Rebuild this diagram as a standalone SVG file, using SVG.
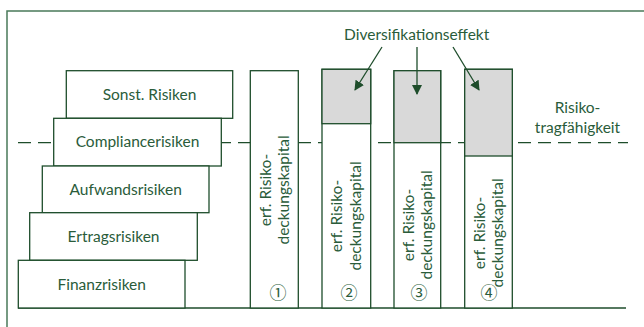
<svg xmlns="http://www.w3.org/2000/svg" width="644" height="327" viewBox="0 0 644 327">
<style>
.bx{fill:#fff;stroke:#1e4d2b;stroke-width:1.3}
.gr{fill:#d9d9d9;stroke:#1e4d2b;stroke-width:1.3}
.t{font-family:Lato,"Liberation Sans",sans-serif;font-size:15.5px;fill:#2a5c3a;text-anchor:middle}
.c{font-family:"Noto Sans CJK SC","DejaVu Sans",sans-serif;font-size:17px;fill:#2a5c3a;text-anchor:middle}
.ln{stroke:#1e4d2b;stroke-width:1.3;fill:none}
</style>
<defs>
<marker id="ah" markerWidth="10" markerHeight="10" refX="9" refY="5" orient="auto" markerUnits="userSpaceOnUse">
<path d="M0,0 L10,5 L0,10 z" fill="#1e4d2b"/>
</marker>
</defs>
<rect width="644" height="327" fill="#fff"/>
<rect x="7" y="11" width="700" height="400" fill="none" stroke="#4a7a5a" stroke-width="1.5"/>
<g id="guides">
<line class="ln" x1="18" y1="142.7" x2="628" y2="142.7" stroke-dasharray="13 7" stroke-width="1.6"/>
<line class="ln" x1="18" y1="308" x2="626" y2="308"/>
</g>
<g id="sonst"><rect class="bx" x="66.3" y="70.7" width="166.4" height="47.6"/><text class="t" x="149.5" y="100">Sonst. Risiken</text></g>
<g id="compliance"><rect class="bx" x="53.7" y="118.3" width="167.6" height="47.7"/><text class="t" x="137.5" y="147">Compliancerisiken</text></g>
<g id="aufwand"><rect class="bx" x="42.3" y="166" width="166.7" height="46.7"/><text class="t" x="125.7" y="195">Aufwandsrisiken</text></g>
<g id="ertrag"><rect class="bx" x="29.7" y="212.7" width="167.6" height="47.6"/><text class="t" x="113.5" y="242.3">Ertragsrisiken</text></g>
<g id="finanz"><rect class="bx" x="18.3" y="260.3" width="166.7" height="47.7"/><text class="t" x="101.7" y="290">Finanzrisiken</text></g>
<g id="col1">
<rect class="bx" x="250.3" y="70.7" width="48" height="237.3"/>
<text class="t" transform="translate(270.5,190) rotate(-90)">erf. Risiko-</text>
<text class="t" transform="translate(289,190) rotate(-90)">deckungskapital</text>
<text class="c" x="278" y="299">①</text>
</g>
<g id="col2">
<rect class="bx" x="322" y="69.3" width="48.7" height="238.7"/>
<rect class="gr" x="322" y="69.3" width="48.7" height="54.4"/>
<text class="t" transform="translate(342,216) rotate(-90)">erf. Risiko-</text>
<text class="t" transform="translate(360.5,216) rotate(-90)">deckungskapital</text>
<text class="c" x="349" y="299">②</text>
</g>
<g id="col3">
<rect class="bx" x="394" y="70.7" width="46.7" height="237.3"/>
<rect class="gr" x="394" y="70.7" width="46.7" height="72"/>
<text class="t" transform="translate(413.5,225) rotate(-90)">erf. Risiko-</text>
<text class="t" transform="translate(432,225) rotate(-90)">deckungskapital</text>
<text class="c" x="419" y="299">③</text>
</g>
<g id="col4">
<rect class="bx" x="464.7" y="69.3" width="47.6" height="238.7"/>
<rect class="gr" x="464.7" y="69.3" width="47.6" height="86.7"/>
<text class="t" transform="translate(484.5,233) rotate(-90)">erf. Risiko-</text>
<text class="t" transform="translate(503,233) rotate(-90)">deckungskapital</text>
<text class="c" x="489" y="299">④</text>
</g>
<g id="labels">
<text class="t" x="416.7" y="40">Diversifikationseffekt</text>
<text class="t" x="577.5" y="113.3">Risiko-</text>
<text class="t" x="577.5" y="133.3">tragfähigkeit</text>
</g>
<g id="connectors">
<line class="ln" x1="382" y1="47" x2="355" y2="90" marker-end="url(#ah)"/>
<line class="ln" x1="417" y1="47" x2="417" y2="94" marker-end="url(#ah)"/>
<line class="ln" x1="453" y1="47" x2="479" y2="90" marker-end="url(#ah)"/>
</g>
</svg>
